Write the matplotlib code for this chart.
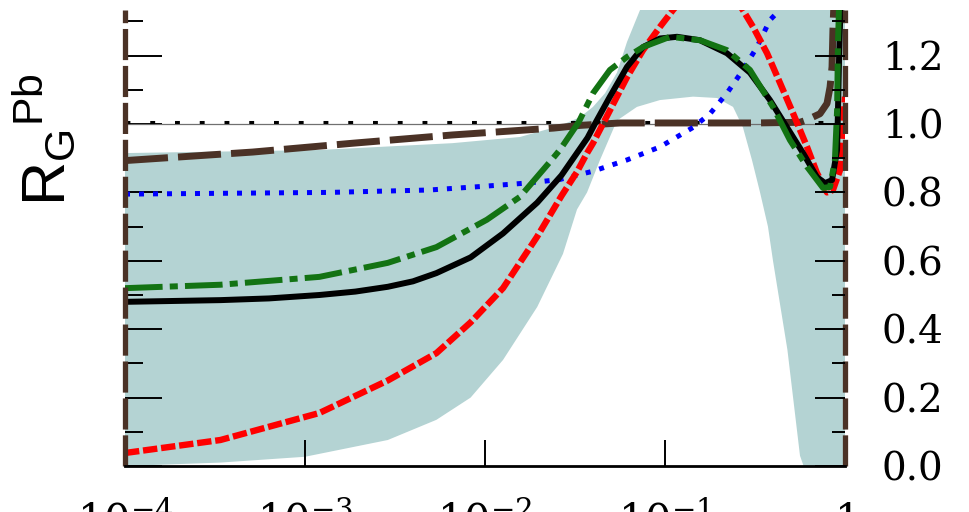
import numpy as np
import matplotlib
matplotlib.use('Agg')
import matplotlib.pyplot as plt
from matplotlib.ticker import FixedLocator, NullLocator, MultipleLocator, FormatStrFormatter

plt.rcParams['mathtext.fontset'] = 'dejavuserif'

# ---- data (x given as log10(x)) ----
black_lx = [-4.0, -3.47, -3.2, -2.92, -2.72, -2.54, -2.4, -2.27, -2.08, -1.9, -1.71, -1.575,
            -1.43, -1.39, -1.306, -1.211, -1.122, -1.028, -0.933, -0.806, -0.656, -0.528,
            -0.417, -0.322, -0.233, -0.156, -0.111, -0.072, -0.044, -0.039, -0.033, -0.022]
black_y = [0.48, 0.485, 0.49, 0.50, 0.51, 0.524, 0.54, 0.564, 0.61, 0.68, 0.77, 0.85,
           0.96, 1.0, 1.08, 1.167, 1.225, 1.25, 1.255, 1.245, 1.207, 1.15,
           1.07, 0.99, 0.915, 0.845, 0.827, 0.836, 0.924, 1.04, 1.19, 1.40]

green_lx = [-4.0, -3.47, -2.92, -2.54, -2.27, -1.99, -1.806, -1.622, -1.583, -1.48, -1.4,
            -1.306, -1.211, -1.122, -0.972, -0.806, -0.656, -0.528, -0.4, -0.306, -0.211,
            -0.122, -0.083, -0.056, -0.044, -0.039, -0.03]
green_y = [0.52, 0.53, 0.553, 0.594, 0.64, 0.72, 0.787, 0.90, 0.925, 1.005, 1.09,
           1.158, 1.196, 1.225, 1.255, 1.245, 1.216, 1.158, 1.05, 0.953, 0.875,
           0.813, 0.816, 0.895, 1.04, 1.237, 1.40]

red_lx = [-4.0, -3.47, -2.92, -2.54, -2.27, -2.08, -1.9, -1.711, -1.575, -1.489, -1.433,
          -1.4, -1.306, -1.211, -1.122, -1.028, -0.956, -0.85, -0.75, -0.65, -0.567, -0.511,
          -0.433, -0.361, -0.289, -0.211, -0.156, -0.1, -0.067, -0.028, -0.017, 0.0]
red_y = [0.038, 0.076, 0.155, 0.25, 0.33, 0.42, 0.52, 0.67, 0.79, 0.86, 0.915,
         0.944, 1.04, 1.137, 1.216, 1.284, 1.333, 1.40, 1.42, 1.40, 1.333, 1.284,
         1.207, 1.12, 1.032, 0.933, 0.857, 0.80, 0.807, 0.865, 0.944, 1.08]

blue_lx = [-4.0, -2.86, -2.31, -2.03, -1.75, -1.583, -1.4, -1.211, -1.028, -0.844, -0.75,
           -0.656, -0.567, -0.489, -0.417, -0.378, -0.35]
blue_y = [0.795, 0.80, 0.807, 0.817, 0.828, 0.838, 0.862, 0.895, 0.933, 0.99, 1.03,
          1.09, 1.158, 1.225, 1.304, 1.325, 1.37]

brown_lx = [-4.0, -3.29, -2.73, -2.18, -1.62, -1.47, -1.25, -0.5, -0.25, -0.211, -0.139,
            -0.1, -0.083, -0.072, -0.067, -0.061]
brown_y = [0.893, 0.918, 0.944, 0.968, 0.988, 0.996, 1.003, 1.003, 1.005, 1.012, 1.03,
           1.06, 1.108, 1.167, 1.275, 1.36]

band_upper_lx = [-4.0, -2.92, -2.18, -1.806, -1.583, -1.472, -1.4, -1.333, -1.267, -1.211,
                 -1.139, -1.0, 0.0]
band_upper_y = [0.915, 0.924, 0.944, 0.962, 0.995, 1.02, 1.05, 1.09, 1.15, 1.24,
                1.333, 1.5, 1.5]
band_lower_lx = [-4.0, -3.47, -3.0, -2.54, -2.27, -2.08, -1.9, -1.71, -1.567, -1.489, -1.433,
                 -1.361, -1.267, -1.156, -1.028, -0.844, -0.711, -0.622, -0.567, -0.517,
                 -0.472, -0.428, -0.4, -0.32, -0.25, -0.23, 0.0]
band_lower_y = [0.0, 0.01, 0.027, 0.076, 0.135, 0.2, 0.31, 0.465, 0.62, 0.75, 0.80,
                0.895, 1.01, 1.05, 1.07, 1.08, 1.076, 1.05, 0.99, 0.895,
                0.80, 0.70, 0.60, 0.34, 0.03, 0.0, 0.0]

xtick_vals = [1e-4, 1e-3, 1e-2, 1e-1, 1]
xtick_labels = [r'$10^{-4}$', r'$10^{-3}$', r'$10^{-2}$', r'$10^{-1}$', r'$1$']

# ---- figure ----
W, H = 970, 512
fig = plt.figure(figsize=(W / 100, H / 100), dpi=100)
ax = fig.add_axes([125 / W, 46 / H, 720 / W, 456 / H])
ax.set_xscale('log')
ax.set_xlim(1e-4, 1)
YTOP = 456 / 342
ax.set_ylim(0, YTOP)


def X(lx):
    return 10 ** np.asarray(lx, dtype=float)


band_x = np.concatenate([X(band_upper_lx), X(band_lower_lx)[::-1]])
band_y = np.concatenate([band_upper_y, band_lower_y[::-1]])
ax.fill(band_x, band_y, color='#b4d3d3', lw=0, zorder=1)

ax.axhline(1.0, color='#707070', lw=0.9, zorder=2)
ax.plot([1e-4, 1], [1.005, 1.005], color='black', lw=2.2, dashes=(1.6, 6.5), zorder=2)

ax.plot(X(brown_lx), brown_y, color='#4b3226', lw=5, dashes=(6.2, 1.45), zorder=3)
ax.plot(X(blue_lx), blue_y, color='#0000ff', lw=3.6, dashes=(1.0, 1.8), zorder=3)
ax.plot(X(red_lx), red_y, color='#ff0000', lw=4.6, dashes=(2.25, 0.6), zorder=3)
ax.plot(X(black_lx), black_y, color='black', lw=4.3, zorder=4)
ax.plot(X(green_lx), green_y, color='#137313', lw=4.3, dashes=(6.3, 1.2, 1.35, 1.2), zorder=5)

# brown dashed side borders
for xv in (1e-4, 1):
    ax.plot([xv, xv], [0, YTOP], color='#4b3226', lw=3.8, dashes=(5.9, 1.1),
            clip_on=False, zorder=6, solid_capstyle='butt')

for s in ('top', 'left', 'right'):
    ax.spines[s].set_visible(False)
ax.spines['bottom'].set_linewidth(2.0)
ax.spines['bottom'].set_zorder(7)

ax.xaxis.set_major_locator(FixedLocator(xtick_vals))
ax.xaxis.set_minor_locator(NullLocator())
ax.set_xticklabels(xtick_labels)
ax.tick_params(axis='x', which='major', direction='in', length=18.7, width=1.4,
               pad=25.5, labelsize=30, top=False)

ax.yaxis.set_major_locator(MultipleLocator(0.2))
ax.yaxis.set_minor_locator(MultipleLocator(0.1))
ax.tick_params(axis='y', which='major', direction='in', length=26.6, width=1.4,
               labelleft=False, right=False)
ax.tick_params(axis='y', which='minor', direction='in', length=13, width=1.4, right=False)

ax2 = ax.twinx()
ax2.set_ylim(0, YTOP)
for s in ax2.spines.values():
    s.set_visible(False)
ax2.yaxis.set_major_locator(MultipleLocator(0.2))
ax2.yaxis.set_minor_locator(MultipleLocator(0.1))
ax2.yaxis.set_major_formatter(FormatStrFormatter('%.1f'))
ax2.tick_params(axis='y', which='major', direction='in', length=21.6, width=1.4,
                pad=26.6, labelsize=28)
ax2.tick_params(axis='y', which='minor', direction='in', length=9.4, width=1.4)
for lbl in ax2.get_yticklabels():
    lbl.set_family('DejaVu Serif')

fig.text(45 / W, 1 - 140 / H, r'R$_\mathregular{G}$$^\mathregular{Pb}$', rotation=90,
         fontsize=44, family='Liberation Sans', ha='center', va='center')

fig.savefig('out.png', dpi=100)
